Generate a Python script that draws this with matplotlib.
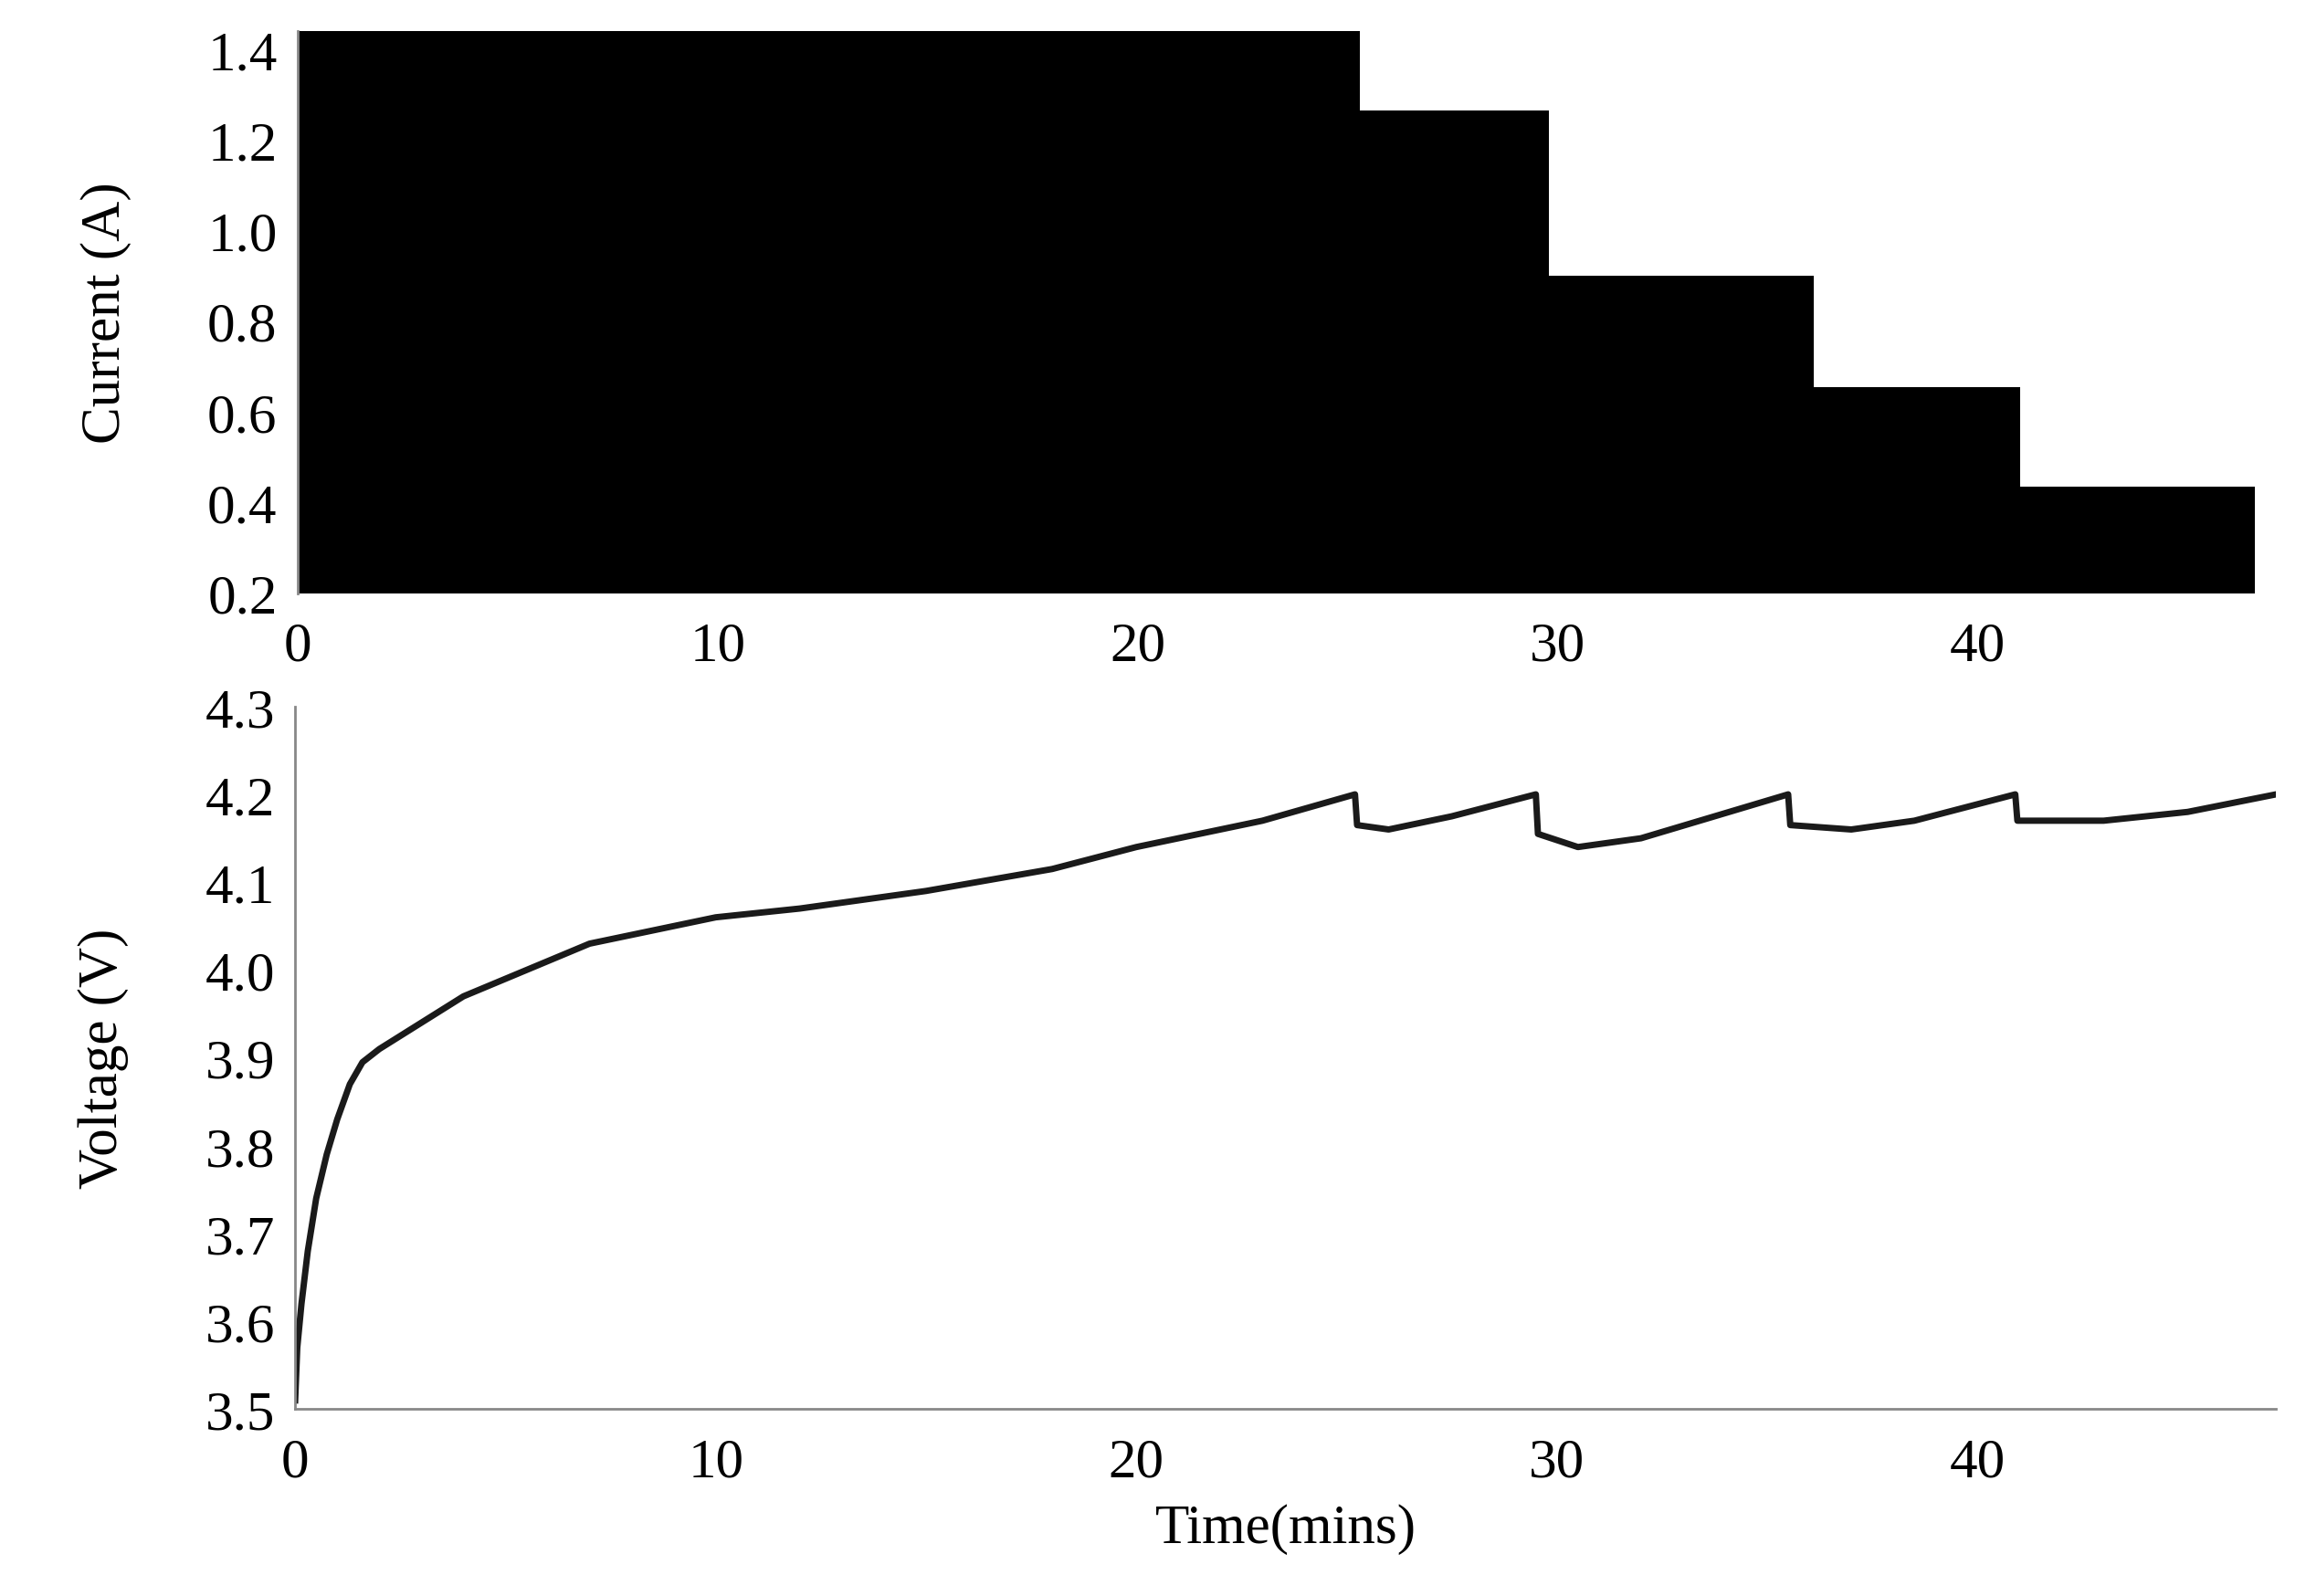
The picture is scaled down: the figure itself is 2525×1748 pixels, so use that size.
import matplotlib
matplotlib.use("Agg")
import matplotlib.pyplot as plt

plt.rcParams['font.family'] = ['Liberation Serif', 'DejaVu Serif']

# Current step data (start time of step, level)
cur_t = [0, 25.3, 29.8, 36.1, 41.0, 46.6]
cur_i = [1.5, 1.265, 0.90, 0.655, 0.435]

# Voltage data
volt_t = [0, 0.05, 0.15, 0.3, 0.5, 0.75, 1.0, 1.3, 1.6, 2.0, 3.0, 4.0, 5.0, 6.0, 7.0, 8.0,
          10.0, 12.0, 15.0, 18.0, 20.0, 23.0, 25.2, 25.25, 26.0, 27.5, 29.5, 29.55, 30.5,
          32.0, 35.5, 35.55, 37.0, 38.5, 40.9, 40.95, 43.0, 45.0, 47.1]
volt_v = [3.51, 3.57, 3.62, 3.68, 3.74, 3.79, 3.83, 3.87, 3.895, 3.91, 3.94, 3.97, 3.99,
          4.01, 4.03, 4.04, 4.06, 4.07, 4.09, 4.115, 4.14, 4.17, 4.20, 4.165, 4.16, 4.175,
          4.20, 4.155, 4.14, 4.15, 4.20, 4.165, 4.16, 4.17, 4.20, 4.17, 4.17, 4.18, 4.20]

fig = plt.figure(figsize=(25.25, 17.49), dpi=100)
ax1 = fig.add_axes([0.129, 0.628, 0.858, 0.352])
ax2 = fig.add_axes([0.128, 0.117, 0.859, 0.440])

xs, ys = [], []
for k, lvl in enumerate(cur_i):
    xs += [cur_t[k], cur_t[k + 1]]
    ys += [lvl, lvl]
ax1.fill_between(xs, 0.2, ys, color='black', linewidth=0)
ax1.set_xlim(0, 47.1)
ax1.set_ylim(0.2, 1.44)
ax1.set_yticks([0.2, 0.4, 0.6, 0.8, 1.0, 1.2, 1.4])
ax1.set_yticklabels(['0.2', '0.4', '0.6', '0.8', '1.0', '1.2', '1.4'])
ax1.set_xticks([0, 10, 20, 30, 40])
ax1.set_ylabel('Current (A)', fontsize=44)
ax1.spines['bottom'].set_visible(False)

ax2.plot(volt_t, volt_v, color='#1a1a1a', linewidth=5)
ax2.set_xlim(0, 47.1)
ax2.set_ylim(3.5, 4.3)
ax2.set_yticks([3.5, 3.6, 3.7, 3.8, 3.9, 4.0, 4.1, 4.2, 4.3])
ax2.set_yticklabels(['3.5', '3.6', '3.7', '3.8', '3.9', '4.0', '4.1', '4.2', '4.3'])
ax2.set_xticks([0, 10, 20, 30, 40])
ax2.set_ylabel('Voltage (V)', fontsize=44)
ax2.set_xlabel('Time(mins)', fontsize=44, labelpad=12)

for ax in (ax1, ax2):
    ax.spines['top'].set_visible(False)
    ax.spines['right'].set_visible(False)
    ax.spines['left'].set_color('#888888')
    ax.spines['bottom'].set_color('#888888')
    ax.spines['left'].set_linewidth(2)
    ax.spines['bottom'].set_linewidth(2)
    ax.tick_params(labelsize=44, length=0)
    ax.tick_params(axis='x', pad=22)
    ax.tick_params(axis='y', pad=16)
ax1.yaxis.labelpad = 60
ax2.yaxis.labelpad = 60

fig.savefig('out.png', dpi=100)
